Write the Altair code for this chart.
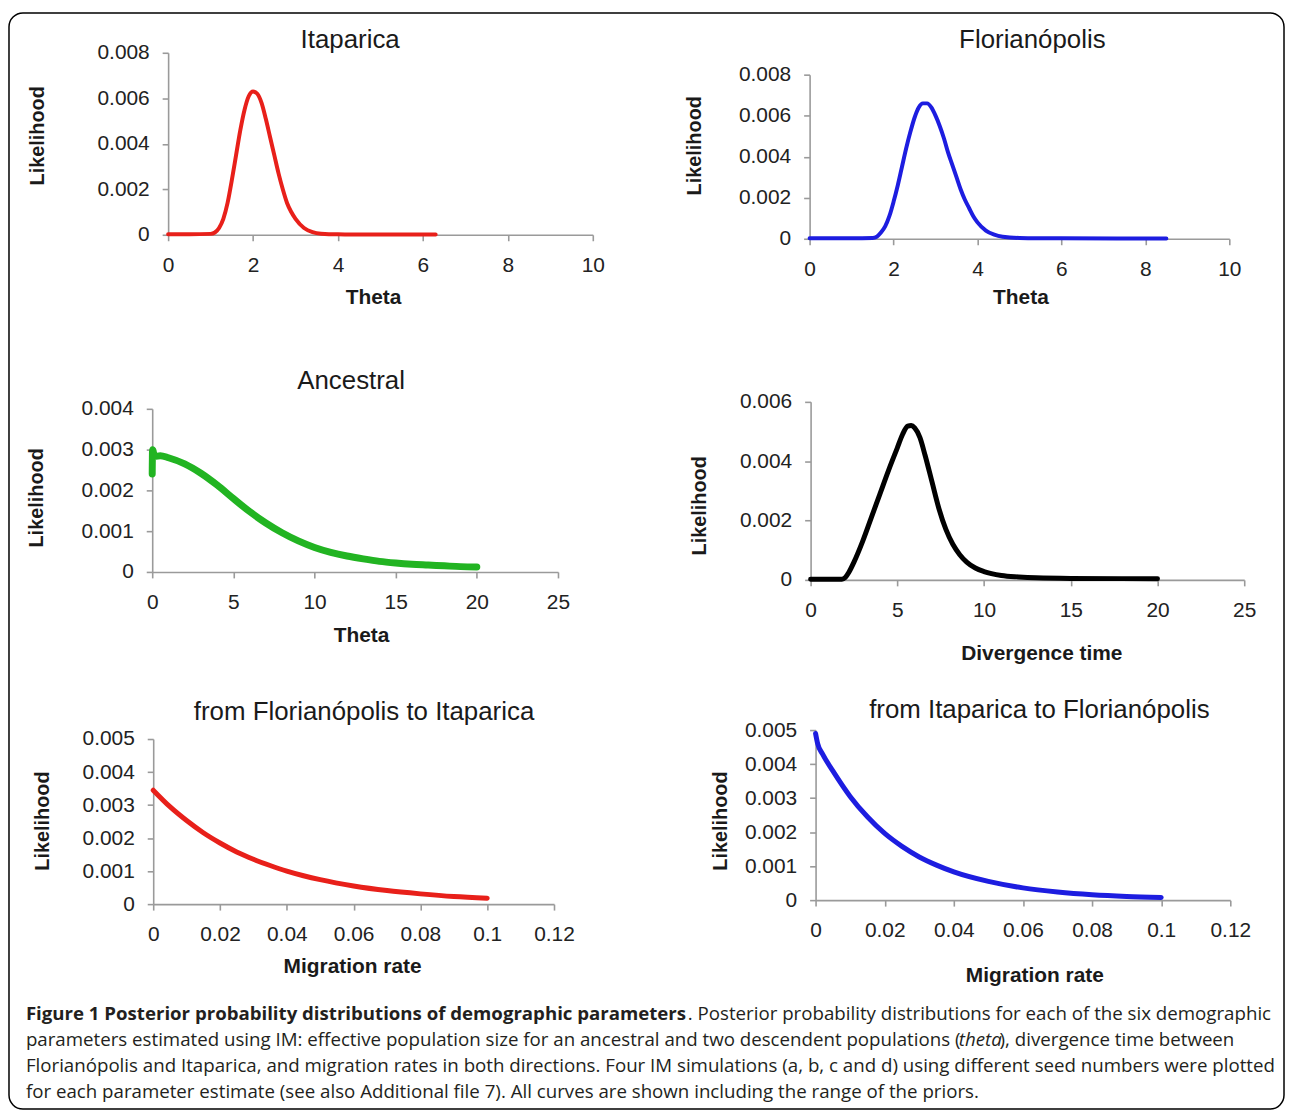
import altair as alt
import pandas as pd

# ---------------- data ----------------
ITA_X = [0, 0.5, 1.0, 1.1, 1.2, 1.3, 1.4, 1.5, 1.6, 1.7, 1.8, 1.9, 2.0, 2.1, 2.2, 2.3, 2.4, 2.5,
         2.6, 2.7, 2.8, 2.9, 3.0, 3.2, 3.4, 3.6, 4.0, 5.0, 6.3]
ITA_Y = [0.00002, 0.00002, 0.00004, 0.0001, 0.0003, 0.0007, 0.0014, 0.0024, 0.0035, 0.0046,
         0.0055, 0.0061, 0.0063, 0.0062, 0.0058, 0.0051, 0.0043, 0.0035, 0.0027, 0.0020,
         0.0014, 0.0010, 0.0007, 0.0003, 0.00012, 0.00005, 0.00002, 0.00001, 0.00001]

FLO_X = [0, 1.0, 1.5, 1.6, 1.7, 1.8, 1.9, 2.0, 2.1, 2.2, 2.3, 2.4, 2.5, 2.6, 2.7, 2.8, 2.9,
         3.0, 3.1, 3.2, 3.3, 3.4, 3.5, 3.6, 3.7, 3.8, 3.9, 4.0, 4.2, 4.4, 4.6, 5.0, 6.0, 8.5]
FLO_Y = [0.00002, 0.00002, 0.00004, 0.0001, 0.0003, 0.0006, 0.0011, 0.0018, 0.0026, 0.0035,
         0.0044, 0.0052, 0.0059, 0.0064, 0.0066, 0.0066, 0.0064, 0.0060, 0.0055, 0.0049,
         0.0042, 0.0036, 0.0030, 0.0024, 0.0019, 0.0015, 0.0011, 0.0008, 0.0004, 0.0002,
         0.0001, 0.00004, 0.00002, 0.00001]

ANC_X = [0, 0.02, 0.15, 0.5, 1, 2, 3, 4, 5, 6, 7, 8, 9, 10, 11, 12, 13, 14, 15, 16,
         17, 18, 19, 20]
ANC_Y = [0.0024, 0.0030, 0.00283, 0.00285, 0.0028, 0.00265, 0.00242, 0.00213, 0.0018,
         0.00148, 0.0012, 0.00096, 0.00076, 0.0006, 0.00048, 0.00039, 0.00032, 0.00026,
         0.00022, 0.00019, 0.00017, 0.00015, 0.00013, 0.00012]

DIV_X = [0, 1.8, 2.0, 2.2, 2.5, 3.0, 3.5, 4.0, 4.5, 5.0, 5.3, 5.6, 5.8, 6.0, 6.3, 6.6, 7.0,
         7.4, 7.8, 8.2, 8.6, 9.0, 9.5, 10, 11, 12, 13, 15, 20]
DIV_Y = [0.00002, 0.00002, 0.00008, 0.00025, 0.0006, 0.0013, 0.0021, 0.0029, 0.0037, 0.00445,
         0.0049, 0.00518, 0.0052, 0.00512, 0.0048, 0.0042, 0.0033, 0.0024, 0.0017, 0.0012,
         0.00085, 0.0006, 0.0004, 0.00028, 0.00015, 0.0001, 0.00007, 0.00005, 0.00004]

MIG1_X = [0, 0.005, 0.01, 0.015, 0.02, 0.025, 0.03, 0.035, 0.04, 0.045, 0.05, 0.06, 0.07,
          0.08, 0.09, 0.1]
MIG1_Y = [0.00345, 0.00295, 0.00253, 0.00216, 0.00185, 0.00158, 0.00136, 0.00117, 0.001,
          0.00086, 0.00074, 0.00055, 0.00041, 0.00031, 0.00023, 0.00018]

MIG2_X = [0, 0.0006, 0.002, 0.005, 0.01, 0.015, 0.02, 0.025, 0.03, 0.035, 0.04, 0.05, 0.06,
          0.07, 0.08, 0.09, 0.1]
MIG2_Y = [0.0049, 0.0046, 0.0043, 0.0038, 0.00305, 0.00245, 0.00196, 0.00158, 0.00127,
          0.00103, 0.00083, 0.00055, 0.00036, 0.00024, 0.00016, 0.00011, 0.00008]

TICKS_THETA = [0, 2, 4, 6, 8, 10]
TICKS_25 = [0, 5, 10, 15, 20, 25]
TICKS_MIG = [0, 0.02, 0.04, 0.06, 0.08, 0.1, 0.12]
Y_008 = [0, 0.002, 0.004, 0.006, 0.008]
Y_004 = [0, 0.001, 0.002, 0.003, 0.004]
Y_006 = [0, 0.002, 0.004, 0.006]
Y_005 = [0, 0.001, 0.002, 0.003, 0.004, 0.005]

TITLES = ["Itaparica", "Florianópolis", "Ancestral", "",
          "from Florianópolis to Itaparica", "from Itaparica to Florianópolis"]
XTITLES = ["Theta", "Theta", "Theta", "Divergence time", "Migration rate", "Migration rate"]
YTITLE = "Likelihood"

CAP_BOLD = "Figure 1 Posterior probability distributions of demographic parameters"
CAP_L1 = ". Posterior probability distributions for each of the six demographic"
CAP_L2A = "parameters estimated using IM: effective population size for an ancestral and two descendent populations ("
CAP_L2B = "theta"
CAP_L2C = "), divergence time between"
CAP_L3 = ("Florianópolis and Itaparica, and migration rates in both directions. Four IM simulations "
          "(a, b, c and d) using different seed numbers were plotted")
CAP_L4 = ("for each parameter estimate (see also Additional file 7). All curves are shown "
          "including the range of the priors.")

# ---------------- layout ----------------
FONT = "Liberation Sans"
CAP_FONT = "Open Sans"
CAP_SIZE = 18.8
W, H = 640, 330      # each grid cell
OX, OY = 8, 8        # page offset of the chart


def panel(xs, ys, color, sw, xdom, xticks, ydom, yticks, xtitle, title, r, c,
          x0, x1, yt, yb, xt_pos, yt_pos, ti_pos, extra=None):
    cx = OX + c * W
    cy = OY + r * H
    lx0, lx1 = x0 - cx, x1 - cx
    lyt, lyb = yt - cy, yb - cy
    df = pd.DataFrame({"x": xs, "y": ys})
    xaxis = alt.Axis(values=xticks, format=".3~f", offset=lyb - H, title=xtitle,
                     titleX=xt_pos[0] - cx, titleY=xt_pos[1] - yb, titleFontSize=21,
                     titleAlign="center", titleBaseline="middle",
                     labelPadding=25, labelBaseline="middle")
    yaxis = alt.Axis(values=yticks, format=".3~f", offset=-lx0, title=YTITLE,
                     titleX=yt_pos[0] - x0, titleY=yt_pos[1] - cy, titleAngle=270,
                     titleAlign="center", titleBaseline="middle",
                     labelPadding=13)
    line = alt.Chart(df).mark_line(color=color, strokeWidth=sw, interpolate="monotone",
                                   strokeCap="round", strokeJoin="round").encode(
        x=alt.X("x:Q", scale=alt.Scale(domain=xdom, range=[lx0, lx1], nice=False, zero=False),
                axis=xaxis),
        y=alt.Y("y:Q", scale=alt.Scale(domain=ydom, range=[lyb, lyt], nice=False), axis=yaxis),
    )
    layers = [line]
    if title:
        tdf = pd.DataFrame({"t": [title]})
        layers.append(
            alt.Chart(tdf).mark_text(font=FONT, fontSize=26, color="#1a1a1a", align="center",
                                     baseline="middle").encode(
                x=alt.value(ti_pos[0] - cx), y=alt.value(ti_pos[1] - cy), text="t:N"))
    if extra:
        layers.extend(extra)
    return alt.layer(*layers).properties(width=W, height=H)


one = pd.DataFrame({"k": [0]})


def cap(text, x, y, align="left", weight="normal", style="normal", size=CAP_SIZE):
    d = pd.DataFrame({"t": [text]})
    return alt.Chart(d).mark_text(font=CAP_FONT, fontSize=size, color="#231f20", align=align,
                                  baseline="middle", fontWeight=weight, fontStyle=style).encode(
        x=alt.value(x - OX), y=alt.value(y - OY), text="t:N")


border = alt.Chart(one).mark_rect(filled=False, stroke="#000", strokeWidth=1.5,
                                  cornerRadius=14).encode(
    x=alt.value(9 - OX), x2=alt.value(1291 - OX), y=alt.value(10 - OY), y2=alt.value(1112 - OY))

extra = [
    border,
    cap(CAP_BOLD, 26, 1017, weight="bold", size=18.75),
    cap(CAP_L1, 1278, 1017, align="right"),
    cap(CAP_L2A, 26, 1043),
    cap(CAP_L2B, 964, 1043, style="italic"),
    cap(CAP_L2C, 1005, 1043),
    cap(CAP_L3, 26, 1069),
    cap(CAP_L4, 26, 1095),
]

p1 = panel(ITA_X, ITA_Y, "#e8201a", 4, [0, 10], TICKS_THETA, [0, 0.008], Y_008, XTITLES[0],
           TITLES[0], 0, 0, 169, 596, 50, 233, (375, 296), (38, 133), (352, 37), extra)
p2 = panel(FLO_X, FLO_Y, "#1d1de0", 4, [0, 10], TICKS_THETA, [0, 0.008], Y_008, XTITLES[1],
           TITLES[1], 0, 1, 814, 1236, 72, 237, (1026, 296), (698, 143), (1038, 37))
p3 = panel(ANC_X, ANC_Y, "#22b422", 7, [0, 25], TICKS_25, [0, 0.004], Y_004, XTITLES[2],
           TITLES[2], 1, 0, 153, 561, 408, 572, (363, 636), (37, 497), (353, 380))
p4 = panel(DIV_X, DIV_Y, "#000000", 5, [0, 25], TICKS_25, [0, 0.006], Y_006, XTITLES[3],
           TITLES[3], 1, 1, 815, 1251, 401, 580, (1047, 654), (703, 505), (0, 0))
p5 = panel(MIG1_X, MIG1_Y, "#e8201a", 5, [0, 0.12], TICKS_MIG, [0, 0.005], Y_005, XTITLES[4],
           TITLES[4], 2, 0, 154, 557, 740, 906, (354, 969), (43, 822), (366, 713))
p6 = panel(MIG2_X, MIG2_Y, "#1d1de0", 5, [0, 0.12], TICKS_MIG, [0, 0.005], Y_005, XTITLES[5],
           TITLES[5], 2, 1, 820, 1237, 731, 902, (1040, 978), (724, 822), (1045, 711))

chart = alt.concat(p1, p2, p3, p4, p5, p6, columns=2, spacing=0, bounds="flush",
                   padding=0).configure_view(stroke=None).configure_axis(
    labelFont=FONT, labelFontSize=21, labelColor="#222222", titleFont=FONT, titleFontSize=20,
    titleFontWeight="bold", titleColor="#1a1a1a", domainColor="#9a9a9a", tickColor="#9a9a9a",
    domainWidth=1.6, tickWidth=1.6, tickSize=6, grid=False, labelFlush=False,
    labelOverlap=False, labelBound=False
).properties(background="white")

chart.save("out.html", embed_options={"renderer": "svg", "actions": False})
